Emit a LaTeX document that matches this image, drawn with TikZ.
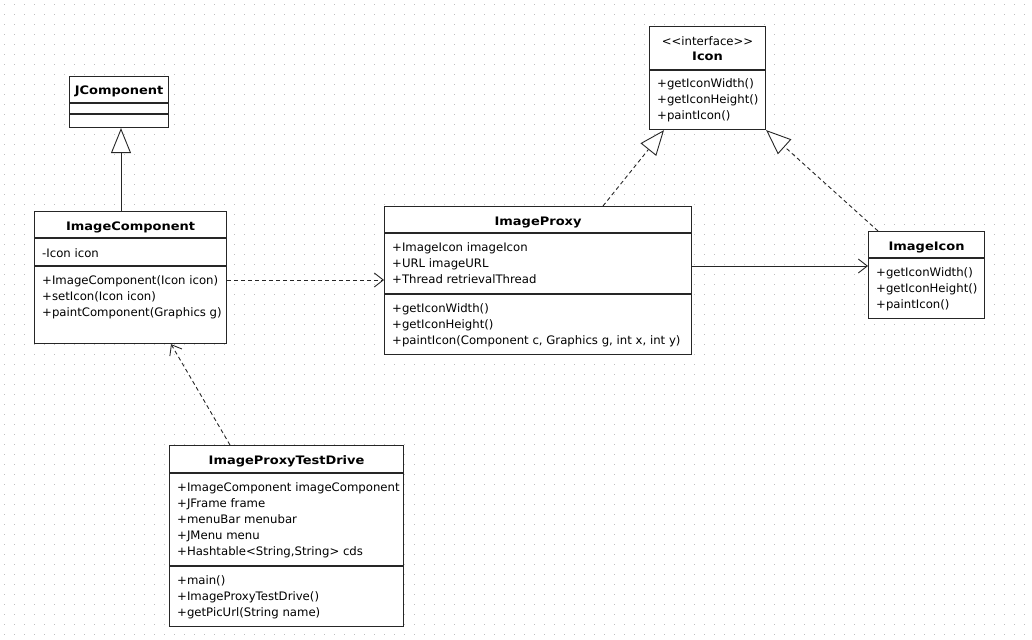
\documentclass[tikz,border=0pt]{standalone}
\usepackage{fontspec}
\setmainfont{DejaVu Sans}[BoldFeatures={FakeStretch=1.11}]
\usetikzlibrary{arrows.meta,calc}
\begin{document}
\begin{tikzpicture}[x=1pt,y=-1pt,
  cls/.style={draw=black!85, line width=1.1pt, fill=white, inner sep=0pt, anchor=north west},
  sepline/.style={draw=black!85, line width=1.1pt},
  txt/.style={anchor=base west, inner sep=0pt, font=\fontsize{11.7}{14}\selectfont},
  ttl/.style={anchor=base, inner sep=0pt, font=\fontsize{11.7}{14}\selectfont\bfseries},
  dot/.style={fill=black!25},
  gen/.style={draw=black!85, line width=0.9pt, -{Triangle[open,length=25pt,width=20pt,fill=white]}},
  realize/.style={gen, dash pattern=on 4pt off 3pt},
  dep/.style={draw=black!85, line width=0.9pt, dash pattern=on 4pt off 3pt, -{Straight Barb[length=9pt,width=14pt]}},
  assoc/.style={draw=black!85, line width=0.9pt, -{Straight Barb[length=9pt,width=14pt]}}]
\useasboundingbox (0,0) rectangle (1032,639);
\fill[white] (0,0) rectangle (1032,639);
\foreach \x in {4,14,...,1024}{\foreach \y in {4,14,...,634}{\fill[dot] (\x,\y) rectangle ++(1.3,1.3);}}

% JComponent
\node[cls, minimum width=99pt, minimum height=51pt] (jc) at (69,76) {};
\draw[sepline] ($(jc.north west)+(0,27)$) -- ($(jc.north east)+(0,27)$);
\draw[sepline] ($(jc.north west)+(0,38)$) -- ($(jc.north east)+(0,38)$);
\node[ttl] (jct) at ($(jc.north)+(0,19)$) {JComponent};

% ImageComponent
\node[cls, minimum width=192pt, minimum height=132pt] (ic) at (34,211) {};
\draw[sepline] ($(ic.north west)+(0,27)$) -- ($(ic.north east)+(0,27)$);
\draw[sepline] ($(ic.north west)+(0,55)$) -- ($(ic.north east)+(0,55)$);
\node[ttl] (ict) at ($(ic.north)+(0,19)$) {ImageComponent};
\node[txt] (ica1) at ($(ic.north west)+(8,46)$) {-Icon icon};
\node[txt] (icm1) at ($(ic.north west)+(8,73)$) {+ImageComponent(Icon icon)};
\node[txt] (icm2) at ($(ic.north west)+(8,89)$) {+setIcon(Icon icon)};
\node[txt] (icm3) at ($(ic.north west)+(8,105)$) {+paintComponent(Graphics g)};

% ImageProxy
\node[cls, minimum width=307pt, minimum height=148pt] (ip) at (384,206) {};
\draw[sepline] ($(ip.north west)+(0,27)$) -- ($(ip.north east)+(0,27)$);
\draw[sepline] ($(ip.north west)+(0,88)$) -- ($(ip.north east)+(0,88)$);
\node[ttl] (ipt) at ($(ip.north)+(0,19)$) {ImageProxy};
\node[txt] (ipa1) at ($(ip.north west)+(8,45)$) {+ImageIcon imageIcon};
\node[txt] (ipa2) at ($(ip.north west)+(8,61)$) {+URL imageURL};
\node[txt] (ipa3) at ($(ip.north west)+(8,77)$) {+Thread retrievalThread};
\node[txt] (ipm1) at ($(ip.north west)+(8,106)$) {+getIconWidth()};
\node[txt] (ipm2) at ($(ip.north west)+(8,122)$) {+getIconHeight()};
\node[txt] (ipm3) at ($(ip.north west)+(8,138)$) {+paintIcon(Component c, Graphics g, int x, int y)};

% Icon
\node[cls, minimum width=116pt, minimum height=103pt] (icon) at (649,26) {};
\draw[sepline] ($(icon.north west)+(0,44)$) -- ($(icon.north east)+(0,44)$);
\node[anchor=base, inner sep=0pt, font=\fontsize{11.7}{14}\selectfont] (iconst) at ($(icon.north)+(0,20)$) {<\kern0pt<interface>\kern0pt>};
\node[ttl] (icont) at ($(icon.north)+(0,35)$) {Icon};
\node[txt] (iconm1) at ($(icon.north west)+(8,62)$) {+getIconWidth()};
\node[txt] (iconm2) at ($(icon.north west)+(8,78)$) {+getIconHeight()};
\node[txt] (iconm3) at ($(icon.north west)+(8,94)$) {+paintIcon()};

% ImageIcon
\node[cls, minimum width=116pt, minimum height=87pt] (ii) at (868,231) {};
\draw[sepline] ($(ii.north west)+(0,27)$) -- ($(ii.north east)+(0,27)$);
\node[ttl] (iit) at ($(ii.north)+(0,19)$) {ImageIcon};
\node[txt] (iim1) at ($(ii.north west)+(8,45)$) {+getIconWidth()};
\node[txt] (iim2) at ($(ii.north west)+(8,61)$) {+getIconHeight()};
\node[txt] (iim3) at ($(ii.north west)+(8,77)$) {+paintIcon()};

% ImageProxyTestDrive
\node[cls, minimum width=234pt, minimum height=181pt] (td) at (169,445) {};
\draw[sepline] ($(td.north west)+(0,28)$) -- ($(td.north east)+(0,28)$);
\draw[sepline] ($(td.north west)+(0,121)$) -- ($(td.north east)+(0,121)$);
\node[ttl] (tdt) at ($(td.north)+(0,19)$) {ImageProxyTestDrive};
\node[txt] (tda1) at ($(td.north west)+(8,46)$) {+ImageComponent imageComponent};
\node[txt] (tda2) at ($(td.north west)+(8,62)$) {+JFrame frame};
\node[txt] (tda3) at ($(td.north west)+(8,78)$) {+menuBar menubar};
\node[txt] (tda4) at ($(td.north west)+(8,94)$) {+JMenu menu};
\node[txt] (tda5) at ($(td.north west)+(8,110)$) {+Hashtable<String,String> cds};
\node[txt] (tdm1) at ($(td.north west)+(8,139)$) {+main()};
\node[txt] (tdm2) at ($(td.north west)+(8,155)$) {+ImageProxyTestDrive()};
\node[txt] (tdm3) at ($(td.north west)+(8,171)$) {+getPicUrl(String name)};

% connectors
\draw[gen] ($(ic.north west)+(87,0)$) -- ($(jc.south west)+(52,0)$);
\draw[realize] ($(ip.north west)+(219,0)$) -- ($(icon.south west)+(15,0)$);
\draw[realize] ($(ii.north west)+(10,0)$) -- (icon.south east);
\draw[dep] ($(ic.north east)+(0,69)$) -- ($(ip.north west)+(0,74)$);
\draw[assoc] ($(ip.north east)+(0,60)$) -- ($(ii.north west)+(0,35)$);
\draw[dep] ($(td.north west)+(61,0)$) -- ($(ic.south west)+(137,0)$);
\end{tikzpicture}
\end{document}
